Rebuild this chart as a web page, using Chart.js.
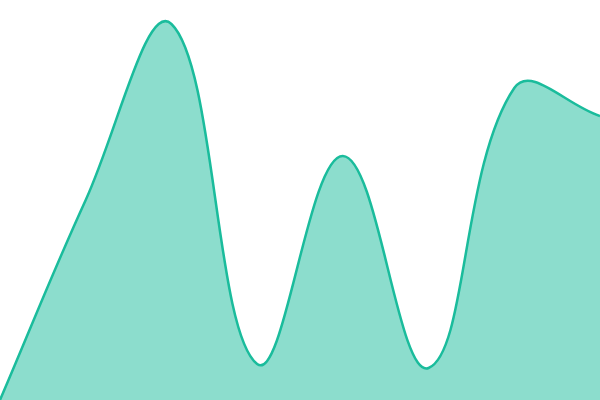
<!DOCTYPE html>
<html>
<head>
<meta charset="utf-8">
<script src="https://cdn.jsdelivr.net/npm/chart.js@4/dist/chart.umd.min.js"></script>
<style>
  html, body { margin: 0; padding: 0; background: #fff; }
  #wrap { width: 600px; height: 400px; }
</style>
</head>
<body>
<div id="wrap"><canvas id="areaChart"></canvas></div>
<script>
const labels = ['1', '2', '3', '4', '5', '6', '7', '8'];
const values = [0, 50, 94, 9, 61, 8, 78, 71];

const ctx = document.getElementById('areaChart').getContext('2d');
const areaChart = new Chart(ctx, {
  type: 'line',
  data: {
    labels: labels,
    datasets: [
      {
        data: values,
        borderColor: '#1abc9c',
        backgroundColor: 'rgba(26, 188, 156, 0.5)',
        borderWidth: 2.5,
        fill: true,
        tension: 0.4,
        pointRadius: 0
      }
    ]
  },
  options: {
    responsive: true,
    maintainAspectRatio: false,
    animation: false,
    layout: { padding: 0 },
    plugins: {
      legend: { display: false },
      tooltip: { enabled: false }
    },
    scales: {
      x: { display: false },
      y: { display: false, min: 0, max: 100 }
    }
  }
});
</script>
</body>
</html>
